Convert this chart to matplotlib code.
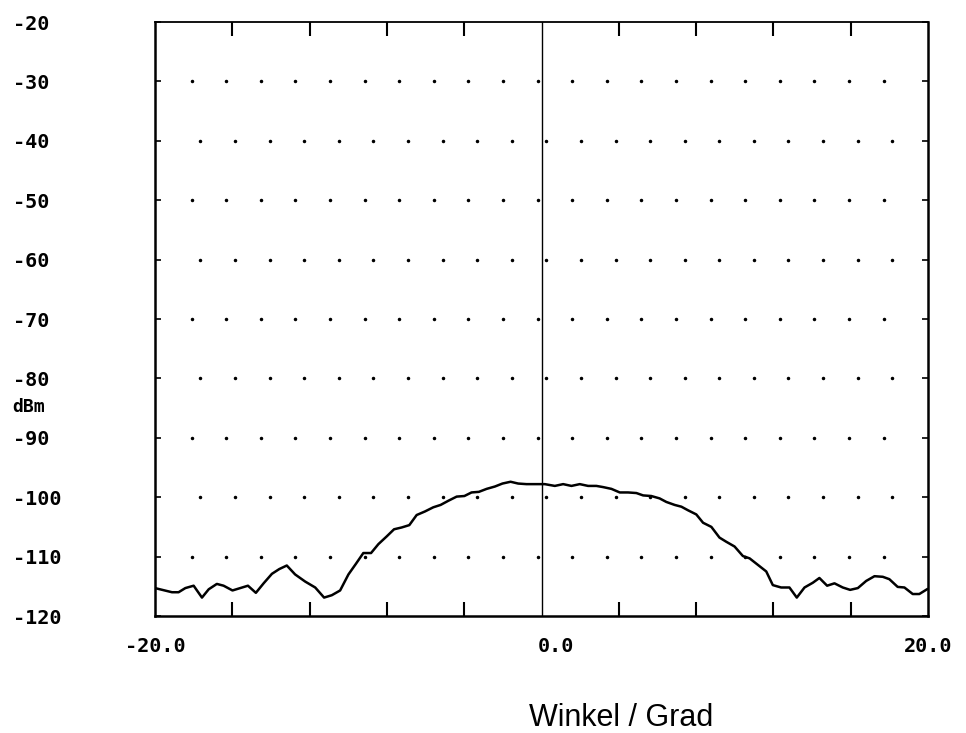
import numpy as np
import matplotlib
matplotlib.use("Agg")
import matplotlib.pyplot as plt
import matplotlib.transforms as mtransforms

# Messkurve: Winkel in Grad, Pegel in dBm
winkel = [-20.0, -19.12, -18.78, -18.43, -18.0, -17.57, -17.22, -16.80, -16.45, -15.99,
          -15.59, -15.19, -14.78, -14.38, -13.95, -13.57, -13.18, -12.75, -12.23, -11.71,
          -11.25, -10.85, -10.42, -9.99, -9.60, -9.22, -8.82, -8.44, -8.01, -7.63,
          -7.24, -6.84, -6.46, -6.03, -5.60, -5.22, -4.82, -4.39, -3.99, -3.62,
          -3.24, -2.84, -2.41, -2.02, -1.60, -1.21, -0.78, -0.34, 0.17, 0.69,
          1.12, 1.55, 1.98, 2.41, 2.84, 3.19, 3.62, 4.05, 4.48, 4.91,
          5.26, 5.68, 6.11, 6.46, 6.89, 7.24, 7.58, 8.01, 8.36, 8.79,
          9.21, 9.56, 9.99, 10.42, 10.77, 11.20, 11.63, 11.97, 12.40, 12.83,
          13.21, 13.61, 14.04, 14.38, 14.78, 15.16, 15.59, 15.97, 16.37, 16.80,
          17.23, 17.66, 18.00, 18.43, 18.78, 19.21, 19.55, 19.95]
pegel = [-115.3, -116.0, -116.0, -115.3, -114.9, -116.9, -115.5, -114.6, -114.9, -115.7,
         -115.3, -114.9, -116.1, -114.5, -112.9, -112.1, -111.5, -113.0, -114.2, -115.2,
         -116.9, -116.5, -115.7, -113.0, -111.2, -109.4, -109.4, -107.9, -106.6, -105.4,
         -105.1, -104.7, -103.0, -102.4, -101.7, -101.3, -100.6, -99.9, -99.8, -99.2,
         -99.1, -98.6, -98.2, -97.7, -97.4, -97.7, -97.8, -97.8, -97.8, -98.1,
         -97.8, -98.1, -97.8, -98.1, -98.1, -98.3, -98.6, -99.2, -99.2, -99.3,
         -99.7, -99.8, -100.2, -100.8, -101.3, -101.6, -102.2, -102.9, -104.3, -105.0,
         -106.8, -107.5, -108.3, -109.9, -110.3, -111.4, -112.5, -114.8, -115.2, -115.2,
         -116.9, -115.2, -114.4, -113.6, -114.9, -114.5, -115.2, -115.6, -115.3, -114.1,
         -113.3, -113.4, -113.8, -115.1, -115.2, -116.3, -116.3, -115.5]

y_ticks = [-20, -30, -40, -50, -60, -70, -80, -90, -100, -110, -120]
x_ticks = [-20, 0, 20]
x_ticklabels = ["-20.0", "0.0", "20.0"]
x_minor = [-16, -12, -8, -4, 4, 8, 12, 16]

mono = "DejaVu Sans Mono"

fig = plt.figure(figsize=(9.66, 7.33), dpi=100)
ax = fig.add_axes([155 / 966, 1 - 616 / 733, 773 / 966, 594 / 733])
ax.set_xlim(-20, 20)
ax.set_ylim(-120, -20)

# Punktraster des Plotters
for i, yv in enumerate(range(-30, -120, -10)):
    start = -18.1 if i % 2 == 0 else -17.65
    xs = np.arange(start, 19.0, 1.79)
    ax.plot(xs, [yv] * len(xs), linestyle="none", marker="o", ms=1.5,
            color="black", zorder=1)

ax.axvline(0, color="black", lw=1.0, zorder=2)
ax.plot(winkel, pegel, color="black", lw=1.8, zorder=3)

for side in ["left", "bottom", "right"]:
    ax.spines[side].set_linewidth(1.8)
ax.spines["top"].set_linewidth(1.3)

ax.set_yticks(y_ticks)
ax.set_yticklabels([f"{v}" for v in y_ticks], fontfamily=mono, fontsize=14.5,
                   fontweight="bold", ha="left")
ax.tick_params(axis="y", direction="in", length=4, width=1.2, right=True,
               pad=102)

ax.set_xticks(x_ticks)
ax.set_xticklabels(x_ticklabels, fontfamily=mono, fontsize=14.5,
                   fontweight="bold")
ax.set_xticks(x_minor, minor=True)
ax.tick_params(axis="x", which="major", length=0, pad=15)
ax.tick_params(axis="x", which="minor", direction="in", length=10, width=1.5,
               top=True, bottom=True)

# mittleres Label leicht nach rechts versetzt wie im Original
lbl = ax.get_xticklabels()[1]
lbl.set_transform(lbl.get_transform() +
                  mtransforms.ScaledTranslation(14 / 100, 0, fig.dpi_scale_trans))

fig.text(12 / 966, 1 - 412 / 733, "dBm", fontfamily=mono, fontsize=13,
         fontweight="bold", ha="left", va="baseline")
fig.text(621 / 966, 1 - 726 / 733, "Winkel / Grad", fontfamily="Liberation Sans",
         fontsize=22, ha="center", va="baseline")

fig.savefig("out.png", dpi=100)
